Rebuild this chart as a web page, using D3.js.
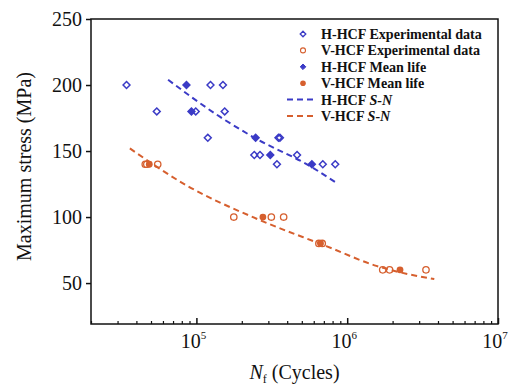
<!DOCTYPE html>
<meta charset="utf-8">
<style>
body { margin: 0; background: #fff; }
svg text { font-family: "Liberation Serif", "Times New Roman", serif; fill: #111; }
.axis path, .axis line { stroke: #111; }
</style>
<body>
<script src="https://cdn.jsdelivr.net/npm/d3@7"></script>
<script>
// data (N in cycles, S in MPa)
var hExpN = [34400, 54600, 99000, 119000, 124000, 150000, 154000, 242000, 264000, 342000, 350000, 358000, 465000, 689000, 833000];
var hExpS = [200, 180, 180, 160, 200, 200, 180, 147, 147, 140, 160, 160, 147, 140, 140];
var vExpN = [45800, 46900, 55400, 177000, 314000, 379000, 649000, 683000, 1720000, 1910000, 3330000];
var vExpS = [140, 140, 140, 100, 100, 100, 80, 80, 60, 60, 60];
var hMeanN = [85900, 92700, 247000, 309000, 583000];
var hMeanS = [200, 180, 160, 147, 140];
var vMeanN = [48700, 276000, 665000, 2240000];
var vMeanS = [140, 100, 80, 60];
var hFitN = [64900, 143000, 243000, 578000, 845000];
var hFitS = [204, 176, 160, 138, 126];
var vFitN = [36200, 85900, 256000, 726000, 1560000, 3780000];
var vFitS = [152, 124, 98.3, 78, 63, 53];
var yTicks = [50, 100, 150, 200, 250];
var xTicks = [1e5, 1e6, 1e7];
var legendLabels = ["H-HCF Experimental data", "V-HCF Experimental data", "H-HCF Mean life", "V-HCF Mean life", "H-HCF ", "V-HCF "];

var blue = "#3b3bc6", orange = "#d65f2e";
var width = 513, height = 385;
var mLeft = 91, mRight = 498, mTop = 19, mBottom = 324;

var x = d3.scaleLog().domain([2e4, 1e7]).range([mLeft, mRight]);
var y = d3.scaleLinear().domain([19, 250]).range([mBottom, mTop]);

var svg = d3.select("body").append("svg")
    .attr("width", width)
    .attr("height", height);

function pts(ns, ss) { return ns.map(function(n, i) { return [n, ss[i]]; }); }

// frame
svg.append("rect")
    .attr("x", mLeft).attr("y", mTop)
    .attr("width", mRight - mLeft).attr("height", mBottom - mTop)
    .attr("fill", "none").attr("stroke", "#111").attr("stroke-width", 1.5);

// y axis
var yAxis = svg.append("g").attr("class", "axis")
    .attr("transform", "translate(" + mLeft + ",0)")
    .call(d3.axisLeft(y).tickValues(yTicks).tickSize(5).tickPadding(4));
yAxis.select(".domain").remove();
yAxis.selectAll("line").attr("stroke-width", 1.5);
yAxis.selectAll("text").style("font-size", "20px");

// x axis: majors and minors pointing inward
var minors = [];
[1e4, 1e5, 1e6].forEach(function(d) {
  for (var k = 2; k < 10; k++) if (d * k >= 2e4) minors.push(d * k);
});
var xAxis = svg.append("g").attr("class", "axis")
    .attr("transform", "translate(0," + mBottom + ")")
    .call(d3.axisBottom(x).tickValues(xTicks).tickSizeInner(-6).tickSizeOuter(0).tickFormat(""));
xAxis.select(".domain").remove();
xAxis.selectAll("line").attr("stroke-width", 1.5);
var xMinor = svg.append("g").attr("class", "axis")
    .attr("transform", "translate(0," + mBottom + ")")
    .call(d3.axisBottom(x).tickValues(minors).tickSizeInner(-3).tickSizeOuter(0).tickFormat(""));
xMinor.select(".domain").remove();
xMinor.selectAll("line").attr("stroke-width", 1.2);

var xl = svg.append("g").selectAll("text").data(xTicks).enter().append("text")
    .attr("x", function(d) { return x(d) - 3; })
    .attr("y", 348)
    .attr("text-anchor", "middle")
    .style("font-size", "20px")
    .text("10");
xl.append("tspan")
    .attr("dy", -9).style("font-size", "11px")
    .text(function(d) { return Math.round(Math.log10(d)); });

// axis titles
svg.append("text")
    .attr("transform", "translate(31," + ((mTop + mBottom) / 2 - 5) + ")rotate(-90)")
    .attr("text-anchor", "middle")
    .style("font-size", "20px")
    .text("Maximum stress (MPa)");

var xt = svg.append("text")
    .attr("x", (mLeft + mRight) / 2)
    .attr("y", 379)
    .attr("text-anchor", "middle")
    .style("font-size", "20px");
xt.append("tspan").style("font-style", "italic").text("N");
xt.append("tspan").attr("dy", 4).style("font-size", "12px").text("f");
xt.append("tspan").attr("dy", -4).text(" (Cycles)");

// fitted S-N lines
var line = d3.line().x(function(d) { return x(d[0]); }).y(function(d) { return y(d[1]); }).curve(d3.curveMonotoneX);
svg.append("path").datum(pts(hFitN, hFitS))
    .attr("d", line).attr("fill", "none")
    .attr("stroke", blue).attr("stroke-width", 2).attr("stroke-dasharray", "6,4");
svg.append("path").datum(pts(vFitN, vFitS))
    .attr("d", line).attr("fill", "none")
    .attr("stroke", orange).attr("stroke-width", 2).attr("stroke-dasharray", "6,4");

var diamond = d3.symbol().type(d3.symbolDiamond2).size(30);
var smallDiamond = d3.symbol().type(d3.symbolDiamond2).size(20);

svg.append("g").selectAll("path").data(pts(hExpN, hExpS)).enter().append("path")
    .attr("d", diamond)
    .attr("transform", function(d) { return "translate(" + x(d[0]) + "," + y(d[1]) + ")"; })
    .attr("fill", "none").attr("stroke", blue).attr("stroke-width", 1.5);
svg.append("g").selectAll("circle").data(pts(vExpN, vExpS)).enter().append("circle")
    .attr("cx", function(d) { return x(d[0]); })
    .attr("cy", function(d) { return y(d[1]); })
    .attr("r", 3.2)
    .attr("fill", "none").attr("stroke", orange).attr("stroke-width", 1.3);
svg.append("g").selectAll("path").data(pts(hMeanN, hMeanS)).enter().append("path")
    .attr("d", diamond)
    .attr("transform", function(d) { return "translate(" + x(d[0]) + "," + y(d[1]) + ")"; })
    .attr("fill", blue).attr("stroke", blue).attr("stroke-width", 1.5);
svg.append("g").selectAll("circle").data(pts(vMeanN, vMeanS)).enter().append("circle")
    .attr("cx", function(d) { return x(d[0]); })
    .attr("cy", function(d) { return y(d[1]); })
    .attr("r", 3.4)
    .attr("fill", orange);

// legend
var lg = svg.append("g").attr("transform", "translate(303,34)");
var rowH = 16.4;
legendLabels.forEach(function(t, i) {
  var g = lg.append("g").attr("transform", "translate(0," + (i * rowH) + ")");
  if (i === 0) g.append("path").attr("d", smallDiamond).attr("fill", "none").attr("stroke", blue).attr("stroke-width", 1.3);
  if (i === 1) g.append("circle").attr("r", 2.5).attr("fill", "none").attr("stroke", orange).attr("stroke-width", 1.1);
  if (i === 2) g.append("path").attr("d", smallDiamond).attr("fill", blue).attr("stroke", blue);
  if (i === 3) g.append("circle").attr("r", 2.8).attr("fill", orange);
  if (i >= 4) g.append("line").attr("x1", -16).attr("x2", 11).attr("stroke", i === 4 ? blue : orange)
      .attr("stroke-width", 2).attr("stroke-dasharray", "6,4");
  var tx = g.append("text").attr("x", 18).attr("y", 5).style("font-size", "14.1px").style("font-weight", "bold").text(t);
  if (i >= 4) tx.append("tspan").style("font-style", "italic").text("S-N");
});
</script>
</body>
